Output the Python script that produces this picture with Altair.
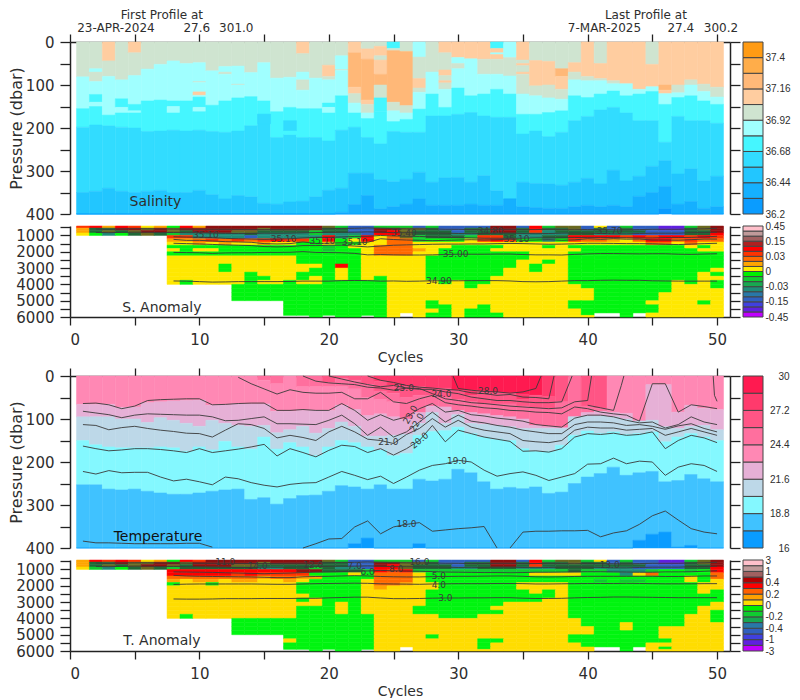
import altair as alt
import pandas as pd

FONT = "DejaVu Sans"
BAR_FONT = "Liberation Sans"
INK = "#2e2e2e"

# ---------- colour classes ----------
sal_colors = {1: "#ff9b14", 2: "#ffad4a", 3: "#ffb878", 4: "#ffcda0", 5: "#cfe4d0", 6: "#a0ffff",
              7: "#45f6ff", 8: "#32dcff", 9: "#22c6ff", 10: "#15b0ff", 11: "#0a9cff"}
tem_colors = {1: "#ff1a50", 2: "#ff3a6c", 3: "#ff5585", 4: "#ff6f9e", 5: "#ff88b4", 6: "#e6b0d6",
              7: "#bdd8e8", 8: "#84f8ff", 9: "#40c2ff", 10: "#0a9cff"}
anom_colors = {"Y": "#ffe800", "G": "#00f510", "g": "#10cc30", "e": "#18a850", "t": "#1f8c78", "c": "#2878a8",
               "b": "#3060c0", "i": "#4040e0", "v": "#6020e0", "m": "#c000ff", "o": "#ffa500", "O": "#ff6a00",
               "r": "#ff3300", "R": "#ff0000", "D": "#8f1010", "n": "#6b6a20", "k": "#206838"}
t_anom_colors = dict(anom_colors, Y="#ffdd00", G="#00f510")

sal_bar = [sal_colors[i] for i in range(11, 0, -1)]
sal_bar_labels = ["36.2", "", "36.44", "", "36.68", "", "36.92", "", "37.16", "", "37.4", ""]
tem_bar = [tem_colors[i] for i in range(10, 0, -1)]
tem_bar_labels = ["16", "", "18.8", "", "21.6", "", "24.4", "", "27.2", "", "30"]
s_anom_bar = ["#c000ff", "#6020e0", "#4040e0", "#3060c0", "#2878a8", "#1f8c78", "#18a850", "#10cc30", "#00f000",
              "#ffe800", "#ffa500", "#ff6a00", "#ff3300", "#ff0000", "#b02020", "#a06060", "#c09a9a", "#ffc0cb"]
s_anom_labels = ["-0.45", "", "", "-0.15", "", "", "-0.03", "", "", "0", "", "", "0.03", "", "", "0.15", "", "", "0.45"]
t_anom_bar = ["#c000ff", "#6020e0", "#4040e0", "#3060c0", "#2878a8", "#18a850", "#10cc30", "#00f000",
              "#ffdd00", "#ffa000", "#ff6000", "#ff0000", "#b00000", "#a06060", "#c09a9a", "#ffc0cb"]
t_anom_labels = ["-3", "", "-1", "", "-0.4", "", "-0.2", "", "0", "", "0.2", "", "0.4", "", "1", "", "3"]

# ---------- salinity: per-cycle runs "class:bottom dbar" down to the pale band, then band bottoms ----------
sal_runs = [
    "5:81 6:155", "5:62 6:70 5:92 6:122 7:140 6:150", "4:44 5:80 6:170", "5:88 6:132 7:152 6:165",
    "4:25 5:78 6:145 7:160 6:165", "5:63 6:137", "5:52 6:135", "5:44 6:137 7:150 6:165", "5:50 6:137",
    "5:48 6:92 5:94 6:116 4:124 6:128 7:152 6:162", "5:67 6:147", "5:57 6:70 5:75 6:137", "5:56 6:98 5:100 6:130",
    "5:71 6:127", "5:48 6:137", "5:84 6:162", "5:82 6:152", "4:27 5:70 6:88 5:112 6:155", "5:84 6:155",
    "5:54 4:80 5:88 6:142 7:152 6:165", "5:32 6:64 5:66 6:125", "4:25 3:105 4:120 5:142 6:165",
    "5:16 4:40 3:135 4:145 5:165 6:178", "5:10 4:32 5:42 4:75 3:100 5:130 7:162", "7:15 5:20 3:140 5:160 6:185",
    "5:22 3:148 5:165 6:180", "6:35 5:85 4:107 5:117 6:156", "5:70 6:121", "4:25 5:65 4:78 5:90 4:95 5:110 6:152",
    "4:36 6:50 5:62 6:107", "4:39 6:125", "4:40 5:75 6:121", "7:15 4:25 6:29 4:40 5:75 6:110", "6:36 5:79 6:121",
    "4:42 5:50 4:55 5:70 4:75 5:121 6:168", "5:43 4:102 5:125 6:168", "5:45 4:100 5:130 6:164",
    "5:62 3:80 4:110 5:133 6:160", "5:48 4:70 5:88 6:125", "4:80 5:90 6:129", "5:50 4:85 5:90 6:121",
    "4:90 5:97 6:114", "4:97 6:125", "4:110 6:121", "5:52 4:104 6:115", "4:100 3:112 4:120 6:145",
    "4:100 5:118 6:129", "4:88 5:100 6:125", "4:98 5:115 6:137", "4:105 5:128 6:145",
]
sal_7_bottom = [198, 193, 195, 198, 200, 208, 207, 205, 207, 205, 208, 210, 207, 195, 168, 222, 215, 222, 222, 230,
                205, 198, 222, 237, 208, 210, 210, 172, 172, 168, 164, 172, 175, 175, 214, 207, 220, 210, 183, 173,
                158, 152, 165, 183, 183, 233, 173, 183, 183, 189]
sal_8_bottom = [350, 347, 340, 347, 350, 347, 345, 350, 350, 345, 355, 365, 357, 360, 375, 377, 372, 370, 360, 345,
                340, 305, 305, 320, 325, 319, 303, 326, 316, 315, 326, 311, 346, 365, 326, 329, 330, 333, 326, 317,
                330, 298, 323, 312, 289, 276, 307, 295, 323, 312]
sal_9_bottom = [400, 400, 400, 400, 400, 400, 400, 400, 400, 400, 400, 400, 400, 400, 400, 400, 400, 400, 400, 400,
                396, 378, 357, 388, 383, 377, 365, 380, 380, 380, 377, 380, 380, 365, 383, 385, 387, 387, 383, 380,
                383, 380, 383, 359, 350, 336, 377, 371, 387, 383]
sal_10_bottom = [400] * 45 + [388] + [400] * 4
sal_patches = [(17, 183, 207, 8), (17, 207, 215, 7), (15, 168, 190, 8)]

# ---------- temperature ----------
tem_runs = [
    "5:66", "5:66", "5:66", "5:73", "5:72", "5:62", "5:60", "5:58", "5:57", "5:56", "5:68", "5:67", "5:65", "5:65",
    "4:10 5:65", "4:18 5:82", "5:82", "4:25 5:80", "4:25 5:80", "3:15 4:25 5:80", "3:5 4:25 5:68", "3:10 4:30 5:78",
    "3:20 4:50 5:92", "2:12 3:35 4:55 5:88", "2:22 3:40 4:60 5:95", "2:25 3:50 4:100", "2:25 3:45 4:85",
    "2:28 3:45 4:70", "2:28 3:50 4:72", "1:33 3:55 4:80", "1:33 2:45 3:60 4:85", "1:35 3:65 4:88", "1:38 3:65 4:92",
    "1:40 3:65 4:95", "1:42 2:55 3:70 4:100", "1:45 3:75 4:115", "2:48 3:75 4:118", "3:60 4:120", "4:95",
    "3:70 4:85", "3:75 4:82", "5:85", "5:87", "5:105", "5:20", "5:20", "5:84", "5:68", "5:75", "5:78",
]
tem_6_bottom = [95, 95, 95, 100, 100, 108, 97, 103, 110, 117, 103, 110, 115, 117, 115, 132, 125, 117, 133, 122, 107,
                117, 140, 140, 138, 135, 110, 85, 110, 90, 110, 112, 115, 118, 122, 122, 122, 122, 95, 93, 93, 95,
                100, 105, 103, 118, 122, 117, 115, 125]
tem_7_bottom = [150, 160, 165, 167, 167, 167, 165, 167, 175, 165, 172, 152, 165, 170, 142, 170, 155, 165, 185, 165,
                150, 155, 165, 172, 185, 180, 138, 129, 127, 119, 134, 142, 147, 150, 169, 175, 175, 161, 138, 128,
                134, 130, 136, 134, 130, 153, 142, 134, 142, 150]
tem_8_bottom = [253, 253, 263, 265, 263, 268, 272, 275, 275, 272, 268, 265, 263, 287, 283, 298, 285, 278, 277, 268,
                255, 258, 263, 253, 263, 263, 240, 244, 240, 217, 225, 246, 263, 259, 262, 258, 273, 270, 250, 235,
                227, 212, 231, 225, 222, 246, 243, 229, 239, 246]
tem_9_bottom = [400] * 21 + [390, 377, 400, 400, 400, 390] + [400] * 16 + [382, 368, 363, 398, 394, 400, 400]

# temperature contours: (start cycle, depths per cycle)
c19 = [222, 228, 220, 225, 224, 224, 235, 244, 240, 246, 253, 235, 239, 248, 254, 258, 252, 249, 248, 235, 222, 231,
       241, 233, 250, 235, 219, 208, 204, 196, 200, 219, 233, 227, 223, 231, 243, 235, 227, 205, 204, 191, 204, 198,
       200, 231, 212, 204, 208, 222]
c20 = [163, 169, 174, 172, 169, 169, 171, 174, 178, 169, 178, 174, 170, 165, 159, 186, 169, 178, 188, 173, 161, 164,
       178, 169, 184, 169, 150, 115, 153, 126, 134, 142, 147, 152, 175, 174, 177, 169, 142, 134, 136, 133, 138, 136,
       130, 169, 150, 138, 144, 155]
c21 = [113, 115, 125, 120, 117, 122, 126, 129, 133, 134, 142, 126, 111, 113, 122, 144, 138, 143, 150, 130, 117, 130,
       147, 150, 157, 136, 122, 99, 119, 103, 119, 126, 130, 134, 150, 153, 155, 150, 126, 119, 121, 121, 126, 124,
       122, 138, 130, 122, 130, 138]
c22 = [82, 86, 90, 97, 91, 88, 89, 90, 91, 91, 95, 104, 103, 99, 95, 111, 111, 112, 113, 103, 91, 111, 138, 119, 142,
       130, 107, 84, 107, 91, 105, 109, 115, 119, 126, 130, 134, 134, 113, 107, 107, 109, 115, 113, 117, 124, 116,
       111, 122, 130]
c23 = [64, 63, 67, 76, 70, 57, 55, 54, 53, 53, 67, 66, 64, 63, 63, 80, 80, 78, 80, 80, 64, 80, 103, 90, 103, 95, 76,
       64, 84, 80, 90, 93, 98, 101, 105, 113, 116, 119, 98, 91, 91, 95, 103, 109, 107, 121, 113, 95, 107, 113]
c24 = [3, 18, 30, 42, 32, 38, 40, 40, 38, 53, 53, 38, 60, 64, 53, 45, 62, 67, 70, 74, 76, 80, 81, 84, 85, 88, 72, 76,
       84, 88, 91, 105, 18, 18, 84, 67, 71, 76]
c25 = [0, 12, 16, 18, 20, 26, 28, 33, 28, 29, 41, 53, 57, 62, 64, 67, 70, 72, 74, 76, 74, 60]
c26 = [0, 7, 14, 20, 25, 22, 28, 31, 31, 37, 41, 49, 53, 57, 57, 60, 62, 62, 60]
c27 = [0, 10, 15, 22, 26, 28, 31, 33, 39, 41, 45, 43, 49, 50, 53]
c28 = [29, 33, 36, 37, 40, 37, 29]
c18a = [384, 388, 388, 389, 390, 390, 390, 390, 389, 389, 398]
c18b = [400, 390, 379, 378, 351, 337, 367, 351, 345, 341, 361, 358, 355, 353, 350, 400]
c18c = [400, 363, 361, 361, 360, 360, 359, 374, 365, 360, 345, 325, 314, 335, 355, 363, 367]
tem_lines = [(1, c19), (1, c20), (1, c21), (1, c22), (1, c23), (13, c24), (18, c25), (20, c26), (23, c27), (30, c28),
             (1, c18a), (18, c18b), (34, c18c)]
tem_extra_cycles = [[29.6, 30], [36, 36.4], [37, 37.4], [38, 38.8], [39, 40, 40.3], [40, 41, 42, 42.6, 42.8],
                    [49.7, 49.8, 50]]
tem_extra_depths = [[0, 29], [29, 0], [53, 0], [60, 0], [60, 57, 0], [68, 74, 80, 22, 0], [0, 45, 59]]
tem_texts = ["28.0", "25.0", "24.0", "23.0", "22.0", "21.0", "20.0", "19.0", "18.0"]
tem_text_cycles = [32.3, 25.8, 28.7, 26.3, 26.8, 24.6, 27.0, 29.9, 26.0]
tem_text_depths = [36, 28, 43, 90, 108, 153, 150, 198, 345]
tem_text_angles = [0, 0, 0, 300, 300, 0, 320, 0, 0]

# ---------- anomaly rows: one string per pressure level, one letter per cycle ----------
levels = [420, 550, 700, 850, 1000, 1200, 1400, 1600, 1800, 2000, 2250, 2500, 2750, 3000, 3250, 3500, 3750, 4000,
          4250, 4500, 4750, 5000, 5250, 5500, 5750, 5900, 6000]
s_rows = [
    "rRoRrYoGRo DDDDDDDDDn gbbgggbgbb bbDDbRgnnb YbgbbvvgnD",
    "okkDDnDnDD DDDDnDDDDk kbbDDnnkbb kkDDkRkknb kbkbbvvknD",
    "oknknDDnkD DDnnkkkkgk kbbDRnkkkb kkDDkrtkkk kkkkbbbkkD",
    "YGtGknkgtt tttkttttgt ttbRRnkkkt tkkkttttkk tttbbbbkkR",
    ".......rrt tttbtttttR tgRYOngkkk grrkttkkRR RRrRrRRrRr",
    ".......ooO rOrOrRrrGR GYRYOOgGGG YrRrGGtGrO OoYORROrOO",
    ".......YYo YoYYoYYGGY GGYYOOYYYY YYYYYYYYYY YYYYOOYOYY",
    ".......GGG GGGGGGGGGg GYYOOOYYYG GGGYYYGYGG GGGGGGGYGY",
    ".......YGY YGGGGGGGGg GGYOOOoYGG GGYYYYYYYG GGGGGGGGYY",
    ".......GGG GGGGGGGGGG GGYOOOYYGG GGGGGYYYGG GGGGGGGGGG",
    ".......YYY YYYYYYYGGG GGYYYYYGGG GGGGGYYYGG GGGGGGGGGG",
    ".......YYY YYYYYYYGGG GGYYYYYGGG GGGGYYGYGG GGGGGGGGGG",
    ".......YYY YGYYYYYYYG RGYYYYYGGG GGGGYGYYGG GGGGGGGGGG",
    ".......YYY YGYYYYYYGG YGYYYYYGGG GGGYYGYYGG GGGGGGGGGY",
    ".......YYY YYYGYYYGGG YGYYYYYGGG GGGYYYYYGG GGGGGGGGYG",
    ".......YYY YYYGGYYGYG YGYGYYYGGG GGYYYYYYGG GGGGGGGGYY",
    ".......YGY YYYGYYGYYG GGGGYYYYGY GGYYYYYYGG GGGGGGYGYG",
    ".......... ..GGGGGGGG GGGGYYYYYY GYYYYYYYYG GGGGGGYYYG",
    ".......... ..GGGGGGGG GGGGYYYYYY YYYYYYYYYY GGGGGGYYYY",
    ".......... ..GGGGGGGG GGGGYYYYYY YYYYYYYYYY GGGGGYYYYY",
    ".......... ..GGGGGGGG GGGGYYYYYY YYYYYYYYYY GGGGGYYYYY",
    ".......... ......GGGG GGGGYYYGYY YYYYYYYYGG GGGGYYYYGY",
    ".......... ......GGGG GGGGYYYGGY YGYYYYYYGG GGGGGYYYYY",
    ".......... ......GGGG GGGGYYYYGY GGYYYYYYYG GGGGGYYYYY",
    ".......... ......GGGG GGGGY.YGGY GGGYYYYYYG ..G.YYYYYY",
    ".......... ........G. GG.GY.YGGY GGGYYYYYYY ..G.YYYYYY",
]
t_rows = [
    "oRrRrYoGRr DDDDDDDDDn gbbgggbgbb bbDDbRgnng YbgbbvvgnD",
    "okkDnnDDnD DDDDnDDDDk kbbDDnnkbb kkDDkRkknk kbkbbvvknD",
    "oknknDDnkD DDnnkkkkkk kbbDRnkkkb kkDDkrkkkk kkkkbbbkkD",
    "YgtGknkgkk kkkkttkkgk ttbRRnkkkt tkkktttkkk tttbbbbkkR",
    ".......RRR RRRRRRRDDk kkgRrRgggg ggggggggkg gtttgGGgGR",
    ".......RRR RRrRrrrrGG GYGOOOYGGG GGGGGYYYYG GGtYOGGGGO",
    ".......OOO OOOOoOOooG GGGOOOYGGG GGGGGGGGGG GGGGGGGYGO",
    ".......oYo oYooYYoYGG GGYOOOYGGG GGGGGGGGGG gGggGGGYGY",
    ".......GYY GYYYYYYGGG GGYOOoYYGG GGGGYYYYGG GGGGGGGGYY",
    ".......YYY YYYYYYYGGG GGYoYYYYGG GGGGYYYYGG GGGGGGGGYY",
    ".......YYY YYYYYYYGGG GGYYYYYGGG GGGGGYGYGG GGGGGGGGYG",
    ".......YYY YYYYYYYYGG GGYYYYYGGG GGGGGGGYGG GGGGGGGGGG",
    ".......YYY YYYYYYYGYG GGYYYYYGGG GGGGGGYYGG GGGGGGGGGG",
    ".......YYY YYYYYYYYYG YGYYYYYGGG GGGYYYYYGG GGGGGGGGGY",
    ".......YYY YYYYYYYGGG YGYYYYGGGG GGYYYYYYGG GGGGGGGGYY",
    ".......YYY YYYYYYYGGG YGYYYYGGGG GGGYYYYYGG GGGGGGGGYG",
    ".......YGY YYYYYYYGGG GGGYYYYYGG GYYYYYYYGG GGGGGGGYYG",
    ".......... ..GGGGGGGG GGGYYYYYYY YYYYYYYYYG GGGGGGGYYG",
    ".......... ..GGGGGGGG GGGYYYYYYY YYYYYYYYYG GGYGGGGYYY",
    ".......... ..GGGGGGGG GGGYYYYYYY YYYYYYYYYY GGYGGYYYYY",
    ".......... ..GGGGGGGG GGGYYYYYYY YYYYYYYYYY GGGGGYYYYY",
    ".......... ......GGGG GGGYYYYGYY YYYYYYYYGG GGGGGYYYYY",
    ".......... ......YGGG GGGYYYYYYY YGGYYYYYGG GGGGGGYYYY",
    ".......... ......GGGG GGGYYYYYYY YGYYYYYYYG GGGGYYYYYY",
    ".......... ......GGGG GGGYY.YYYY YGYYYYYYYY ..G.YGYYYY",
    ".......... ........G. GG.YY.YYYY YYYYYYYYYY ..G.YYYYYY",
]

# anomaly panel contours
s3490 = [3790, 3800, 3830, 3860, 3850, 3830, 3830, 3830, 3830, 3820, 3800, 3800, 3800, 3770, 3760, 3770, 3800, 3790,
         3810, 3800, 3780, 3780, 3780, 3770, 3770, 3770, 3790, 3830, 3840, 3830, 3800, 3770, 3770, 3750, 3740, 3750,
         3750, 3780, 3790, 3800, 3800, 3800, 3800]
s3500 = [2040, 2050, 2060, 2100, 2070, 2060, 2060, 2040, 2040, 2030, 1990, 2040, 2050, 2060, 2100, 2190, 2170, 2190,
         2200, 2200, 2190, 2170, 2150, 2150, 2150, 2140, 2140, 2170, 2190, 2190, 2200, 2160, 2130, 2110, 2110, 2120,
         2130, 2120, 2120, 2150, 2160, 2140, 2120]
s3505 = [1480, 1500, 1520, 1550, 1580, 1600, 1620, 1680, 1700, 1680, 1620, 1620, 1600, 1600, 1650, 1700, 1650, 1600,
         1580, 1560, 1540, 1530, 1530, 1520, 1520, 1500, 1490, 1500, 1520, 1540, 1530, 1510, 1480, 1480, 1490, 1500,
         1500, 1510, 1540, 1560, 1530, 1500, 1480]
s3510 = [1240, 1300, 1300, 1340, 1380, 1400, 1420, 1500, 1520, 1500, 1400, 1490, 1470, 1450, 1470, 1420, 1200, 1250,
         1280, 1300, 1320, 1300, 1280, 1260, 1280, 1260, 1230, 1300, 1280, 1260, 1300, 1270, 1200, 1240, 1200, 1230,
         1220, 1280, 1280, 1290, 1260, 1220, 1220]
s3530 = [1080, 1100, 1110, 1130, 1180, 1200, 1220, 1240, 1220, 1200, 1150, 1120, 1120, 1090, 1060, 1050, 1000, 1030,
         1050, 1060, 1090, 1120, 1130, 1150, 1170, 1170, 1180, 1170, 1150, 1150, 1140, 1130, 1120, 1120, 1130, 1140,
         1150, 1150, 1130, 1130, 1120, 1090, 1050]
s3550 = [820, 830, 810, 800, 800, 820, 820, 830, 840, 860, 880, 880, 880, 860, 870, 860, 840, 820, 810, 800, 800,
         780, 800, 830, 830, 840, 850, 860, 880, 890, 880, 860, 860, 880, 890, 880, 860, 850, 860, 880, 900, 900, 880,
         860, 860, 860, 830, 820, 800]
s3570 = [610, 620, 600, 590, 590, 600, 600, 610, 620, 620, 620, 630, 640, 640, 630, 620, 620, 600, 590, 570, 560,
         540, 560, 580, 590, 600, 600, 620, 620, 640, 640, 620, 620, 640, 640, 620, 630, 620, 640, 640, 650, 660, 640,
         620, 620, 620, 600, 590, 560]
s_lines = [(8, s3490), (8, s3500), (8, s3505), (8, s3510), (8, s3530), (2, s3550), (2, s3570)]
s_texts = ["35.10", "35.10", "35.10", "35.10", "35.40", "34.80", "35.10", "35.70", "35.00", "34.90"]
s_text_cycles = [10.5, 16.5, 19.5, 22.0, 25.8, 32.5, 34.5, 41.7, 29.8, 28.5]
s_text_depths = [950, 1210, 1320, 1420, 830, 700, 1230, 710, 2120, 3790]

ta3 = [2810, 2820, 2820, 2810, 2790, 2790, 2790, 2780, 2780, 2780, 2770, 2770, 2740, 2720, 2700, 2700, 2750, 2790,
       2790, 2780, 2760, 2750, 2750, 2740, 2740, 2730, 2730, 2760, 2780, 2780, 2770, 2740, 2720, 2710, 2690, 2690,
       2700, 2710, 2720, 2730, 2730, 2730, 2730]
ta4 = [1920, 1900, 1890, 1890, 1890, 1890, 1890, 1900, 1910, 1910, 1890, 1870, 1860, 1850, 1840, 1850, 1880, 1890,
       1900, 1910, 1890, 1880, 1870, 1870, 1870, 1860, 1860, 1870, 1890, 1890, 1880, 1870, 1860, 1860, 1860, 1850,
       1860, 1870, 1880, 1880, 1880, 1870, 1870]
ta5 = [1360, 1400, 1420, 1430, 1440, 1450, 1460, 1480, 1500, 1500, 1450, 1430, 1420, 1400, 1380, 1400, 1430, 1450,
       1460, 1460, 1440, 1430, 1420, 1420, 1410, 1400, 1400, 1420, 1450, 1460, 1450, 1430, 1420, 1420, 1420, 1420,
       1420, 1420, 1430, 1430, 1420, 1400, 1400]
ta6 = [1150, 1160, 1170, 1180, 1200, 1220, 1240, 1260, 1240, 1220, 1190, 1160, 1150, 1130, 1100, 1090, 1060, 1080,
       1100, 1110, 1130, 1160, 1170, 1180, 1190, 1190, 1200, 1190, 1170, 1170, 1160, 1150, 1140, 1140, 1150, 1160,
       1170, 1170, 1150, 1150, 1140, 1110, 1080]
t_lines = [(8, ta3), (8, ta4), (8, ta5), (8, ta6), (2, s3550), (2, s3570)]
t_texts = ["11.0", "14.0", "12.0", "6.0", "8.0", "7.0", "16.0", "5.0", "4.0", "3.0", "13.0"]
t_text_cycles = [12.0, 14.5, 18.8, 23.0, 25.2, 22.0, 27.0, 28.5, 28.5, 29.0, 41.7]
t_text_depths = [560, 760, 720, 1180, 980, 800, 560, 1400, 1960, 2770, 700]

# panel captions (cycle, pressure)
captions = {"sal": ("Salinity", 6.6, 373), "san": ("S. Anomaly", 7.1, 5450),
            "tem": ("Temperature", 6.8, 374), "tan": ("T. Anomaly", 7.1, 5380)}
header_texts = ["First Profile at", "23-APR-2024", "27.6", "301.0", "Last Profile at", "7-MAR-2025", "27.4", "300.2"]
header_cycles = [7.1, 3.55, 9.8, 12.85, 44.5, 41.3, 47.2, 50.3]
header_depths = [-63, -33, -33, -33, -63, -33, -33, -33]

cycle_ticks = list(range(0, 51, 5))
WIDTH, TALL, SHORT = 660, 172, 91


def run_records(runs, bottoms, colors, first_bottom_class):
    rows = []
    for i, text in enumerate(runs):
        c = i + 1
        top = 0
        for tok in text.split():
            k, b = tok.split(":")
            rows.append({"x": c - .5, "x2": c + .5, "y": top, "y2": float(b), "color": colors[int(k)]})
            top = float(b)
        for j, arr in enumerate(bottoms):
            rows.append({"x": c - .5, "x2": c + .5, "y": top, "y2": arr[i], "color": colors[first_bottom_class + j]})
            top = max(top, arr[i])
    return rows


def grid_records(rows, colors):
    out = []
    for lv, row in enumerate(rows):
        s = row.replace(" ", "")
        for i, ch in enumerate(s):
            if ch != ".":
                out.append({"x": i + .5, "x2": i + 1.5, "y": levels[lv], "y2": levels[lv + 1], "color": colors[ch]})
    return out


def line_records(lines, extra_c=(), extra_d=()):
    out = []
    k = 0
    for start, vals in lines:
        for i, v in enumerate(vals):
            out.append({"name": k, "i": i, "x": start + i, "y": v})
        k += 1
    for cs, ds in zip(extra_c, extra_d):
        for i, (a, b) in enumerate(zip(cs, ds)):
            out.append({"name": k, "i": i, "x": a, "y": b})
        k += 1
    return out


def panel(records, lines, domain, y_vals, label_mod, height, title, x_labels, top_axis, caption, texts,
          header=False, caption_color=INK, text_size=9):
    xs = alt.Scale(domain=[0, 51], nice=False, zero=False)
    ys = alt.Scale(domain=domain, reverse=True, nice=False, zero=False)
    if x_labels:
        xax = alt.Axis(values=cycle_ticks, orient="bottom", title="Cycles", titleFontSize=14, titleFontWeight="normal",
                       titleFont=FONT, titleColor=INK, titlePadding=3, tickSize=8, labelPadding=7, labelFontSize=15,
                       labelExpr="datum.value % 10 == 0 ? datum.label : ''", labelColor=INK, labelFont=FONT,
                       grid=False, tickColor="#222", domainColor="#222", tickWidth=1.3, domainWidth=1.5)
    elif top_axis:
        xax = alt.Axis(values=cycle_ticks, orient="top", title=None, tickSize=8, labels=False, grid=False,
                       tickColor="#222", domainColor="#222", tickWidth=1.3, domainWidth=1.5)
    else:
        xax = None
    yax = alt.Axis(values=y_vals, orient="left", title=title, titleFontSize=16, titleFontWeight="normal", titleFont=FONT,
                   titleColor=INK, titlePadding=1, tickSize=10, labelPadding=6, labelFontSize=15, labelFont=FONT,
                   labelColor=INK, labelExpr=f"datum.value % {label_mod} == 0 ? datum.label : ''",
                   format="d", grid=False, tickColor="#222", domainColor="#222", tickWidth=1.3, domainWidth=1.5,
                   labelOverlap=False)
    rects = alt.Chart(pd.DataFrame(records)).mark_rect(strokeWidth=0.5).encode(
        x=alt.X("x:Q", scale=xs, axis=xax), x2="x2:Q",
        y=alt.Y("y:Q", scale=ys, axis=yax), y2="y2:Q",
        fill=alt.Fill("color:N", scale=None), stroke=alt.Stroke("color:N", scale=None))
    yr = alt.Axis(values=y_vals, orient="right", title=None, tickSize=10, labels=False, grid=False, tickColor="#222",
                  domainColor="#222", tickWidth=1.3, domainWidth=1.5)
    frame = alt.Chart(pd.DataFrame({"x": [0], "y": [domain[0]]})).mark_point(opacity=0).encode(
        x=alt.X("x:Q", scale=xs, axis=None), y=alt.Y("y:Q", scale=ys, axis=yr))
    layers = [rects, frame]
    ln = alt.Chart(pd.DataFrame(lines)).mark_line(color="#3a3a3a", strokeWidth=0.9).encode(
        x=alt.X("x:Q", scale=xs, axis=None), y=alt.Y("y:Q", scale=ys, axis=None),
        detail="name:N", order="i:Q")
    layers.append(ln)
    tx = alt.Chart(pd.DataFrame(texts)).mark_text(color="#3a3a3a", fontSize=text_size, font=FONT).encode(
        x=alt.X("x:Q", scale=xs, axis=None), y=alt.Y("y:Q", scale=ys, axis=None), text="t:N",
        angle=alt.Angle("a:Q", scale=None))
    layers.append(tx)
    cp = alt.Chart(pd.DataFrame([{"t": caption[0], "x": caption[1], "y": caption[2]}])).mark_text(
        color=caption_color, fontSize=14, font=FONT).encode(
        x=alt.X("x:Q", scale=xs, axis=None), y=alt.Y("y:Q", scale=ys, axis=None), text="t:N")
    layers.append(cp)
    if header:
        hd = alt.Chart(pd.DataFrame({"t": header_texts, "x": header_cycles, "y": header_depths})).mark_text(
            color=INK, fontSize=12, font=FONT).encode(
            x=alt.X("x:Q", scale=xs, axis=None), y=alt.Y("y:Q", scale=ys, axis=None), text="t:N")
        layers.append(hd)
    return alt.layer(*layers).resolve_axis(x="independent", y="independent").properties(width=WIDTH, height=height)


def colorbar(cols, labels, height, right_align=False):
    n = len(cols)
    df = pd.DataFrame({"i": list(range(n)), "i2": [k + 1 for k in range(n)], "c": cols})
    vals = [k for k, t in enumerate(labels) if t]
    expr = "[" + ",".join(f"'{t}'" for t in labels) + "][datum.value]"
    kw = dict(labelAlign="right", labelPadding=26) if right_align else dict(labelAlign="left", labelPadding=2)
    return alt.Chart(df).mark_rect(stroke="#444", strokeWidth=1).encode(
        x=alt.value(0), x2=alt.value(20),
        y=alt.Y("i:Q", scale=alt.Scale(domain=[0, n], nice=False, zero=False),
                axis=alt.Axis(orient="right", values=vals, labelExpr=expr, title=None, ticks=False, domain=False,
                              grid=False, labelFontSize=10, labelFont=BAR_FONT, labelColor=INK, labelOverlap=False, **kw)),
        y2="i2:Q", fill=alt.Fill("c:N", scale=None)).properties(width=20, height=height)


def spacer(w, h):
    return alt.Chart(pd.DataFrame({"a": [0]})).mark_point(opacity=0).encode(
        x=alt.value(0), y=alt.value(0)).properties(width=w, height=h)


sal_rec = run_records(sal_runs, [sal_7_bottom, sal_8_bottom, sal_9_bottom, sal_10_bottom, [400] * 50], sal_colors, 7)
sal_rec += [{"x": c - .5, "x2": c + .5, "y": a, "y2": b, "color": sal_colors[k]} for c, a, b, k in sal_patches]
tem_rec = run_records(tem_runs, [tem_6_bottom, tem_7_bottom, tem_8_bottom, tem_9_bottom, [400] * 50], tem_colors, 6)

tem_txt = [{"t": t, "x": a, "y": b, "a": g} for t, a, b, g in zip(tem_texts, tem_text_cycles, tem_text_depths, tem_text_angles)]
san_txt = [{"t": t, "x": a, "y": b, "a": 0} for t, a, b in zip(s_texts, s_text_cycles, s_text_depths)]
tan_txt = [{"t": t, "x": a, "y": b, "a": 0} for t, a, b in zip(t_texts, t_text_cycles, t_text_depths)]
empty_txt = [{"t": "", "x": 0, "y": 0, "a": 0}]

p_vals = list(range(0, 401, 50))
a_vals = list(range(500, 6001, 500))

sal = panel(sal_rec, [{"name": 0, "i": 0, "x": 0, "y": 0}], [0, 400], p_vals, 100, TALL, "Pressure (dbar)", False, True,
            captions["sal"], empty_txt, header=True)
san = panel(grid_records(s_rows, anom_colors), line_records(s_lines), [420, 6000], a_vals, 1000, SHORT, None, True,
            False, captions["san"], san_txt)
tem = panel(tem_rec, line_records(tem_lines, tem_extra_cycles, tem_extra_depths), [0, 400], p_vals, 100, TALL,
            "Pressure (dbar)", False, True, captions["tem"], tem_txt, caption_color="#111")
tan = panel(grid_records(t_rows, t_anom_colors), line_records(t_lines), [420, 6000], a_vals, 1000, SHORT, None, True,
            False, captions["tan"], tan_txt)

chart = alt.concat(
    sal, colorbar(sal_bar, sal_bar_labels, TALL),
    san, colorbar(s_anom_bar, s_anom_labels, SHORT),
    spacer(WIDTH, 35), spacer(20, 35),
    tem, colorbar(tem_bar, tem_bar_labels, TALL, right_align=True),
    tan, colorbar(t_anom_bar, t_anom_labels, SHORT),
    columns=2, spacing={"column": 13, "row": 12},
    bounds="flush", align="each",
).properties(padding=0, background="white").configure_view(stroke=None)

chart.save("out.html", embed_options={"renderer": "svg", "actions": False})
